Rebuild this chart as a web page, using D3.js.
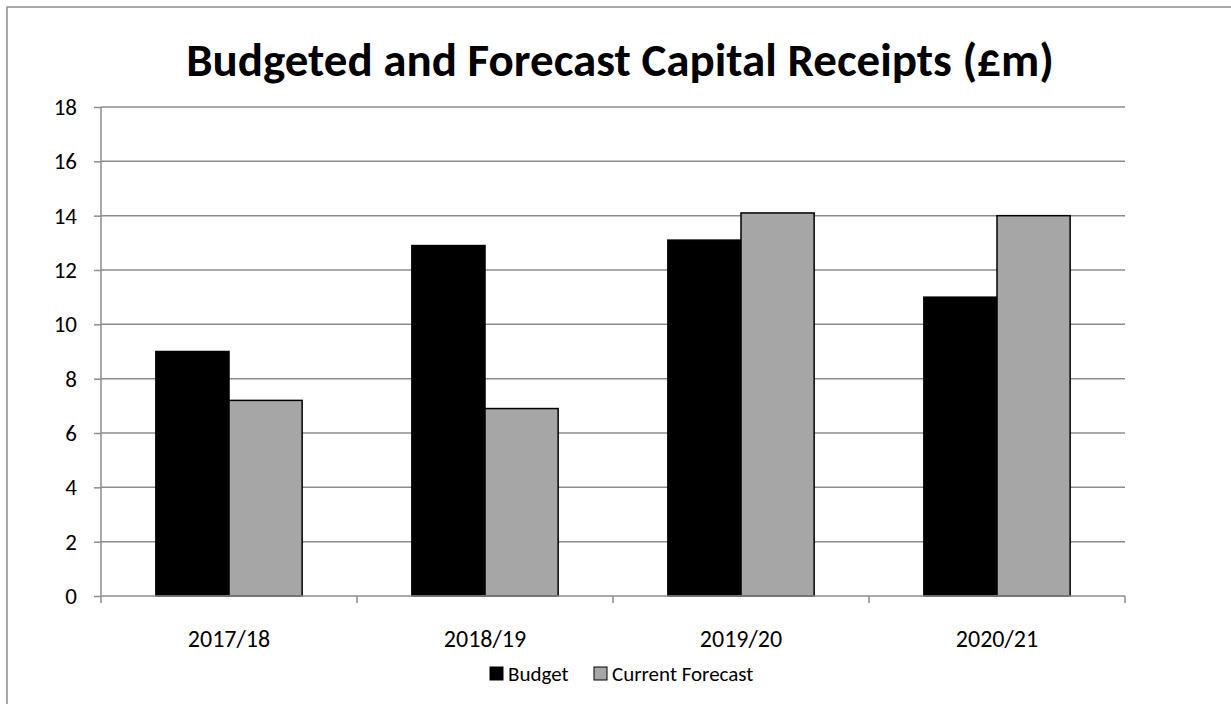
<!DOCTYPE html>
<html>
<head>
<meta charset="utf-8">
<script src="https://cdn.jsdelivr.net/npm/d3@7"></script>
<style>
  body { margin: 0; background: #fff; }
  text { font-family: Carlito, Lato, "Open Sans", sans-serif; fill: #000; }
</style>
</head>
<body>
<div id="chart"></div>
<script>
var categories = ["2017/18", "2018/19", "2019/20", "2020/21"];
var seriesNames = ["Budget", "Current Forecast"];
var budget = [9, 12.9, 13.1, 11];
var forecast = [7.2, 6.9, 14.1, 14];
var yTicks = [0, 2, 4, 6, 8, 10, 12, 14, 16, 18];
var colors = ["#000000", "#a6a6a6"];

var width = 1231,
    height = 704;

var plot = {left: 101, right: 1125, top: 107, bottom: 596};

var svg = d3.select("#chart").append("svg")
    .attr("width", width)
    .attr("height", height);

// outer chart border (runs off the right and bottom edges)
svg.append("rect")
    .attr("x", 7).attr("y", 7)
    .attr("width", 1240).attr("height", 720)
    .attr("fill", "none")
    .attr("stroke", "#8c8c8c")
    .attr("stroke-width", 1.5);

// Excel style gap width 150%: bars take 2 of 3.5 units per category
var x0 = d3.scaleBand()
    .domain(categories)
    .range([plot.left, plot.right]);
var barW = x0.bandwidth() / 3.5;
var x1 = d3.scaleBand()
    .domain(seriesNames)
    .range([barW * 0.75, barW * 2.75]);

var y = d3.scaleLinear()
    .domain([0, 18])
    .range([plot.bottom, plot.top]);

// gridlines
svg.append("g")
    .selectAll("line")
    .data(yTicks.slice(1))
    .enter().append("line")
    .attr("x1", plot.left).attr("x2", plot.right)
    .attr("y1", function (d) { return y(d); })
    .attr("y2", function (d) { return y(d); })
    .attr("stroke", "#8c8c8c")
    .attr("stroke-width", 1.5);

// y axis
var yAxis = d3.axisLeft(y)
    .tickValues(yTicks)
    .tickSize(7)
    .tickPadding(17);

var gy = svg.append("g")
    .attr("transform", "translate(" + plot.left + ",0)")
    .call(yAxis);
gy.selectAll("path, line").attr("stroke", "#8c8c8c").attr("stroke-width", 1.5);
gy.select(".domain").attr("d", "M0," + plot.top + "V" + plot.bottom);
gy.selectAll("text")
    .style("font-size", "23px")
    .style("font-family", "Carlito, Lato, 'Open Sans', sans-serif");

// bars
var data = categories.map(function (c, i) {
    return {cat: c, values: [budget[i], forecast[i]]};
});

var groups = svg.selectAll(".cat")
    .data(data)
    .enter().append("g")
    .attr("class", "cat")
    .attr("transform", function (d) { return "translate(" + x0(d.cat) + ",0)"; });

groups.selectAll("rect")
    .data(function (d) {
        return d.values.map(function (v, j) { return {key: seriesNames[j], value: v, idx: j}; });
    })
    .enter().append("rect")
    .attr("x", function (d) { return x1(d.key); })
    .attr("width", x1.bandwidth())
    .attr("y", function (d) { return y(d.value); })
    .attr("height", function (d) { return y(0) - y(d.value); })
    .attr("fill", function (d) { return colors[d.idx]; })
    .attr("stroke", "#000")
    .attr("stroke-width", 1.5);

// x axis
var gx = svg.append("g")
    .attr("transform", "translate(0," + plot.bottom + ")");
gx.append("line")
    .attr("x1", plot.left).attr("x2", plot.right)
    .attr("stroke", "#8c8c8c").attr("stroke-width", 1.5);
gx.selectAll(".tick")
    .data(d3.range(categories.length + 1))
    .enter().append("line")
    .attr("x1", function (i) { return plot.left + i * x0.step(); })
    .attr("x2", function (i) { return plot.left + i * x0.step(); })
    .attr("y1", 0).attr("y2", 7)
    .attr("stroke", "#8c8c8c").attr("stroke-width", 1.5);
gx.selectAll(".lbl")
    .data(categories)
    .enter().append("text")
    .attr("x", function (d) { return x0(d) + x0.bandwidth() / 2; })
    .attr("y", 51)
    .attr("text-anchor", "middle")
    .style("font-size", "24px")
    .text(function (d) { return d; });

// title
svg.append("text")
    .attr("x", 620)
    .attr("y", 76)
    .attr("text-anchor", "middle")
    .style("font-size", "47px")
    .style("font-weight", "bold")
    .text("Budgeted and Forecast Capital Receipts (£m)");

// legend
var legend = svg.append("g")
    .attr("transform", "translate(490,674)");
var legX = [0, 104];
var item = legend.selectAll(".leg")
    .data(seriesNames)
    .enter().append("g")
    .attr("transform", function (d, i) { return "translate(" + legX[i] + ",0)"; });
item.append("rect")
    .attr("x", 0).attr("y", -7)
    .attr("width", 13).attr("height", 13)
    .attr("fill", function (d, i) { return colors[i]; })
    .attr("stroke", "#000")
    .attr("stroke-width", 1);
item.append("text")
    .attr("x", 18)
    .attr("y", 7)
    .style("font-size", "21px")
    .text(function (d) { return d; });
</script>
</body>
</html>
